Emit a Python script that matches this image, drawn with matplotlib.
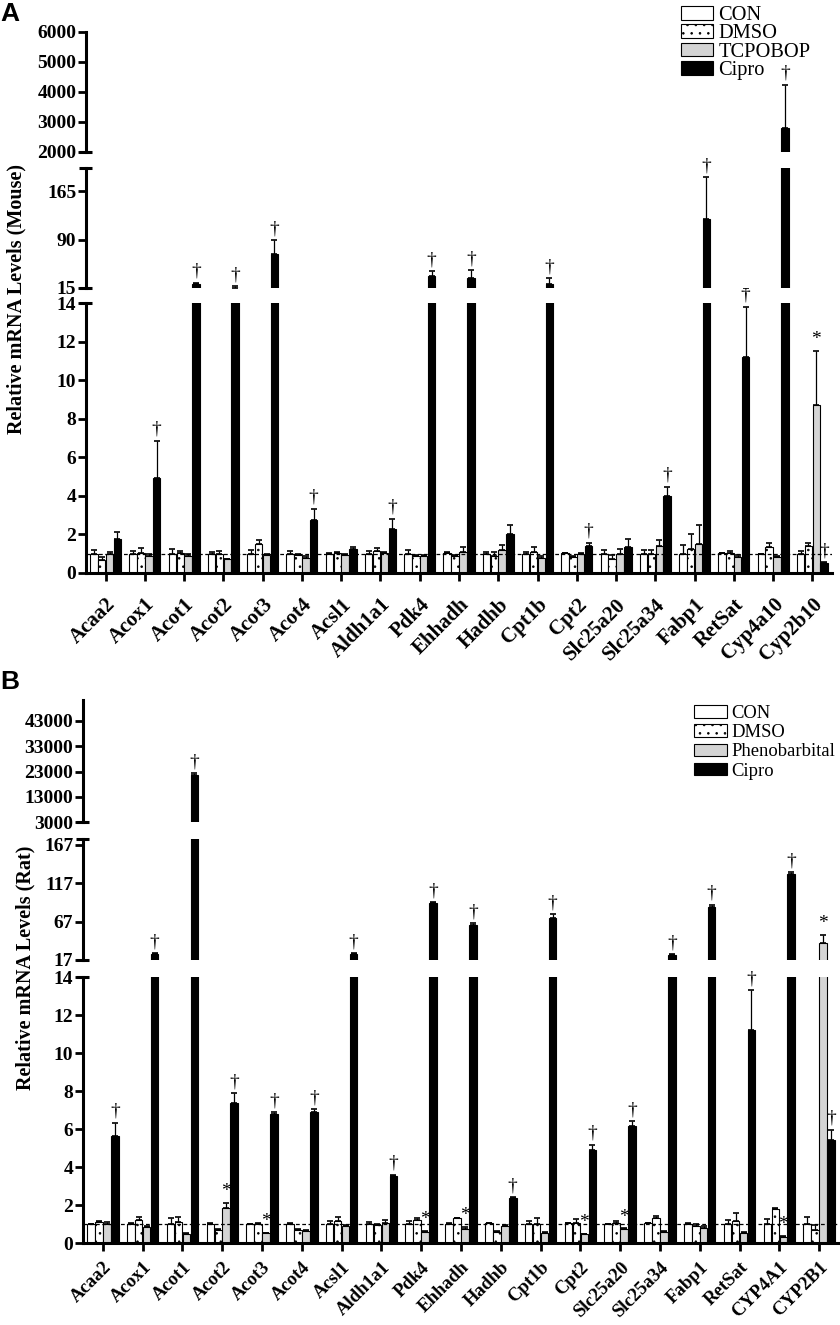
import numpy as np
import matplotlib
matplotlib.use("Agg")
import matplotlib.pyplot as plt
from matplotlib.patches import Patch

plt.rcParams['font.family'] = ['Liberation Serif', 'DejaVu Serif']
plt.rcParams['hatch.linewidth'] = 0.6

# ---- panel A: mouse ----
genes_A = ['Acaa2', 'Acox1', 'Acot1', 'Acot2', 'Acot3', 'Acot4', 'Acsl1', 'Aldh1a1',
           'Pdk4', 'Ehhadh', 'Hadhb', 'Cpt1b', 'Cpt2', 'Slc25a20', 'Slc25a34', 'Fabp1',
           'RetSat', 'Cyp4a10', 'Cyp2b10']
con_A = [1.0, 1.0, 1.0, 1.0, 1.0, 1.0, 1.0, 1.0, 1.0, 1.04, 1.0, 1.0, 1.04, 1.0, 1.0, 1.0, 1.02, 1.0, 1.0]
con_A_err = [0.17, 0.15, 0.23, 0.10, 0.18, 0.16, 0.04, 0.15, 0.18, 0.03, 0.10, 0.10, 0.02, 0.18, 0.20, 0.44, 0.04, 0.01, 0.16]
dmso_A = [0.70, 1.04, 1.04, 1.0, 1.51, 0.92, 1.06, 1.15, 0.89, 0.87, 0.88, 1.10, 0.82, 0.71, 1.0, 1.25, 1.04, 1.35, 1.42]
dmso_A_err = [0.13, 0.26, 0.12, 0.15, 0.23, 0.05, 0.05, 0.15, 0.05, 0.09, 0.22, 0.25, 0.05, 0.25, 0.20, 0.80, 0.12, 0.23, 0.16]
tcp_A = [0.97, 0.88, 0.87, 0.71, 0.92, 0.78, 0.95, 1.04, 0.88, 1.10, 1.20, 0.76, 0.99, 1.0, 1.42, 1.50, 0.85, 0.83, 8.75]
tcp_A_err = [0.13, 0.12, 0.10, 0.03, 0.08, 0.09, 0.02, 0.04, 0.08, 0.25, 0.25, 0.11, 0.07, 0.27, 0.30, 0.97, 0.07, 0.03, 2.78]
cip_A = [1.75, 4.95, 20.7, 15.3, 67, 2.73, 1.25, 2.3, 33.6, 30.9, 2.0, 20.7, 1.42, 1.35, 4.0, 122, 11.22, 2800, 0.52]
cip_A_err = [0.40, 1.93, 2.5, 2.7, 22, 0.62, 0.10, 0.53, 7.7, 11.5, 0.47, 9.3, 0.16, 0.44, 0.48, 64, 2.61, 1450, 0.03]
dag_A = [0, 1, 1, 1, 1, 1, 0, 1, 1, 1, 0, 1, 1, 0, 1, 1, 1, 1, 1]
star_A = [0] * 18 + [1]

# ---- panel B: rat ----
genes_B = ['Acaa2', 'Acox1', 'Acot1', 'Acot2', 'Acot3', 'Acot4', 'Acsl1', 'Aldh1a1',
           'Pdk4', 'Ehhadh', 'Hadhb', 'Cpt1b', 'Cpt2', 'Slc25a20', 'Slc25a34', 'Fabp1',
           'RetSat', 'CYP4A1', 'CYP2B1']
con_B = [0.98, 1.02, 0.98, 1.02, 0.98, 0.98, 0.98, 0.98, 0.98, 1.02, 1.03, 0.98, 1.03, 0.98, 1.03, 1.02, 0.98, 0.98, 0.98]
con_B_err = [0.01, 0.02, 0.34, 0.05, 0.01, 0.09, 0.18, 0.12, 0.16, 0.02, 0.02, 0.16, 0.03, 0.01, 0.04, 0.05, 0.25, 0.30, 0.39]
dmso_B = [1.09, 1.23, 1.10, 0.70, 0.98, 0.70, 1.18, 0.93, 1.21, 1.31, 0.60, 0.98, 1.07, 1.07, 1.31, 0.89, 1.16, 1.79, 0.68]
dmso_B_err = [0.05, 0.14, 0.27, 0.03, 0.09, 0.05, 0.19, 0.05, 0.12, 0.03, 0.03, 0.35, 0.19, 0.07, 0.13, 0.10, 0.42, 0.07, 0.28]
phe_B = [1.0, 0.84, 0.49, 1.82, 0.53, 0.65, 0.88, 1.07, 0.58, 0.75, 0.91, 0.53, 0.46, 0.74, 0.58, 0.79, 0.53, 0.33, 39.6]
phe_B_err = [0.10, 0.03, 0.05, 0.30, 0.02, 0.05, 0.06, 0.16, 0.07, 0.11, 0.03, 0.05, 0.03, 0.03, 0.07, 0.09, 0.07, 0.05, 10]
cip_B = [5.63, 25, 21700, 7.37, 6.79, 6.88, 25, 3.51, 91, 62.6, 2.37, 71.3, 4.91, 6.14, 23.5, 86.5, 11.19, 129, 5.4]
cip_B_err = [0.70, 1.0, 600, 0.53, 0.11, 0.17, 1.0, 0.09, 1.3, 2.6, 0.04, 5.5, 0.27, 0.26, 0.8, 2.6, 2.11, 3, 0.56]
dag_B = [1] * 19
star_B = [0, 0, 0, 1, 1, 0, 0, 0, 1, 1, 0, 0, 1, 1, 0, 0, 0, 1, 1]

W, H = 840, 1325
fig = plt.figure(figsize=(W / 100, H / 100), dpi=100)


def add_ax(l, t, r, b):
    return fig.add_axes([l / W, 1 - b / H, (r - l) / W, (b - t) / H])


styles = [dict(color='white', hatch=None), dict(color='white', hatch='..'),
          dict(color='#d4d4d4', hatch=None), dict(color='black', hatch=None)]


def panel(left, right, segs, genes, series, dags, stars, ylabel, ylab_xy,
          legend_names, leg_xy, leg_kw, xfs, xpad):
    x = np.arange(len(genes))
    axes = []
    for k, (t, b, lo, hi, ticks) in enumerate(segs):
        ax = add_ax(left, t, right, b)
        for j, (m, e) in enumerate(series):
            st = styles[j]
            ax.bar(x + (j - 1.5) * 0.2, m, 0.19, yerr=[np.zeros(len(m)), e],
                   color=st['color'], hatch=st['hatch'], edgecolor='black', linewidth=0.8,
                   error_kw=dict(ecolor='black', elinewidth=0.9, capsize=2.3, capthick=1.2))
        ax.set_ylim(lo, hi)
        ax.set_xlim(-0.5, len(genes) - 0.5)
        ax.set_yticks(ticks)
        ax.set_yticklabels([str(v) for v in ticks], fontweight='bold', fontsize=14)
        ax.tick_params(axis='y', direction='out', length=6, width=2, pad=1)
        for s in ['top', 'right']:
            ax.spines[s].set_visible(False)
        ax.spines['left'].set_linewidth(2.2)
        axw = (right - left)
        # short caps at the axis breaks
        ends = []
        if k > 0:
            ends.append(0)
        if k < len(segs) - 1:
            ends.append(1)
        for yy in ends:
            ax.plot([-7 / axw, 6 / axw], [yy, yy], transform=ax.transAxes, color='black',
                    lw=2.2, clip_on=False, solid_capstyle='butt')
        if k == 0:
            ax.spines['bottom'].set_linewidth(2.2)
            ax.set_xticks(x)
            ax.set_xticklabels(genes, rotation=45, ha='right', va='top', fontweight='bold', fontsize=xfs,
                               rotation_mode='anchor')
            ax.tick_params(axis='x', direction='out', length=5.5, width=2, pad=xpad)
            ax.axhline(1, ls=(0, (3, 2)), color='black', lw=0.9, zorder=5)
        else:
            ax.spines['bottom'].set_visible(False)
            ax.set_xticks([])
        axes.append((ax, lo, hi))

    # significance marks
    def mark(xi, top, sym):
        for ax, lo, hi in axes:
            if top <= hi or ax is axes[-1][0]:
                ax.annotate(sym, xy=(xi, top), xytext=(0, 2), textcoords='offset points',
                            ha='center', va='bottom', fontsize=14, annotation_clip=False)
                return

    for i in range(len(genes)):
        if dags[i]:
            mark(i + 0.3, series[3][0][i] + series[3][1][i], '\u2020')
        if stars[i]:
            mark(i + 0.1, series[2][0][i] + series[2][1][i], '*')

    fig.text(ylab_xy[0] / W, 1 - ylab_xy[1] / H, ylabel, rotation=90, ha='center', va='center',
             fontweight='bold', fontsize=14.5)
    handles = [Patch(facecolor=st['color'], hatch=st['hatch'], edgecolor='black', linewidth=0.8)
               for st in styles]
    fig.legend(handles, legend_names, loc='upper left', bbox_to_anchor=(leg_xy[0] / W, 1 - leg_xy[1] / H),
               frameon=False, handletextpad=0.25, borderpad=0, borderaxespad=0, **leg_kw)


segs_A = [(303.5, 573, 0, 14, list(range(0, 15, 2))),
          (168, 288, 15, 200.6, [15, 90, 165]),
          (32, 152, 2000, 6000, [2000, 3000, 4000, 5000, 6000])]
panel(86, 832, segs_A, genes_A,
      [(con_A, con_A_err), (dmso_A, dmso_A_err), (tcp_A, tcp_A_err), (cip_A, cip_A_err)],
      dag_A, star_A, 'Relative mRNA Levels (Mouse)', (16, 299),
      ['CON', 'DMSO', 'TCPOBOP', 'Cipro'], (681, 6),
      dict(fontsize=14.7, handlelength=1.57, handleheight=0.64, labelspacing=-0.03), 15, 10)

segs_B = [(977, 1243, 0, 14, list(range(0, 15, 2))),
          (839, 960, 17, 174.8, [17, 67, 117, 167]),
          (700, 822.3, 3000, 51150, [3000, 13000, 23000, 33000, 43000])]
panel(83, 839, segs_B, genes_B,
      [(con_B, con_B_err), (dmso_B, dmso_B_err), (phe_B, phe_B_err), (cip_B, cip_B_err)],
      dag_B, star_B, 'Relative mRNA Levels (Rat)', (25, 968),
      ['CON', 'DMSO', 'Phenobarbital', 'Cipro'], (694, 705),
      dict(fontsize=13.4, handlelength=1.77, handleheight=0.65, labelspacing=0.12), 13.5, 6)

fig.text(0 / W, 1 - 2 / H, 'A', fontsize=19, fontweight='bold', family='Liberation Sans', va='top', ha='left')
fig.text(0 / W, 1 - 670 / H, 'B', fontsize=19, fontweight='bold', family='Liberation Sans', va='top', ha='left')

fig.savefig('out.png', dpi=100)
